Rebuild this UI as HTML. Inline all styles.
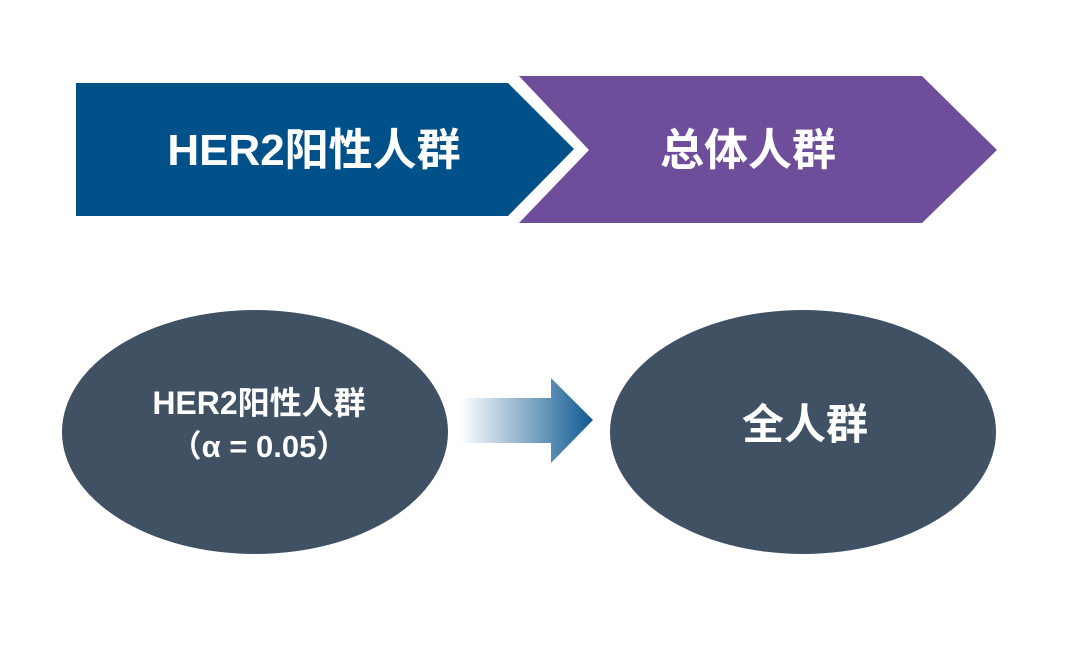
<!DOCTYPE html>
<html><head><meta charset="utf-8"><style>
html,body{margin:0;padding:0;background:#fff;}
svg text{font-family:"Liberation Sans","Noto Sans CJK SC",sans-serif;font-weight:bold;fill:#fff;}
</style></head><body>
<svg width="1080" height="641" viewBox="0 0 1080 641" xmlns="http://www.w3.org/2000/svg">
<defs>
<linearGradient id="g" x1="460" y1="0" x2="593" y2="0" gradientUnits="userSpaceOnUse">
<stop offset="0" stop-color="#fff"/>
<stop offset="1" stop-color="#0f5a92"/>
</linearGradient>
</defs>
<polygon points="76,83 508,83 574,149 508,216 76,216" fill="#005189"/>
<polygon points="519,76 922,76 997,150 922,223 519,223 589,150" fill="#6e4d9b"/>
<text x="314" y="165" font-size="44" text-anchor="middle">HER2阳性人群</text>
<text x="748" y="165" font-size="44" text-anchor="middle">总体人群</text>
<ellipse cx="255" cy="432" rx="193" ry="122" fill="#3f5163"/>
<ellipse cx="803" cy="432" rx="193" ry="122" fill="#3f5163"/>
<polygon points="460,398 551,398 551,378 593,420 551,463 551,443 460,443" fill="url(#g)"/>
<text x="259" y="414" font-size="32" text-anchor="middle">HER2阳性人群</text>
<text x="259" y="457" font-size="31" text-anchor="middle">（α = 0.05）</text>
<text x="805" y="439" font-size="42" text-anchor="middle">全人群</text>
</svg>
</body></html>
